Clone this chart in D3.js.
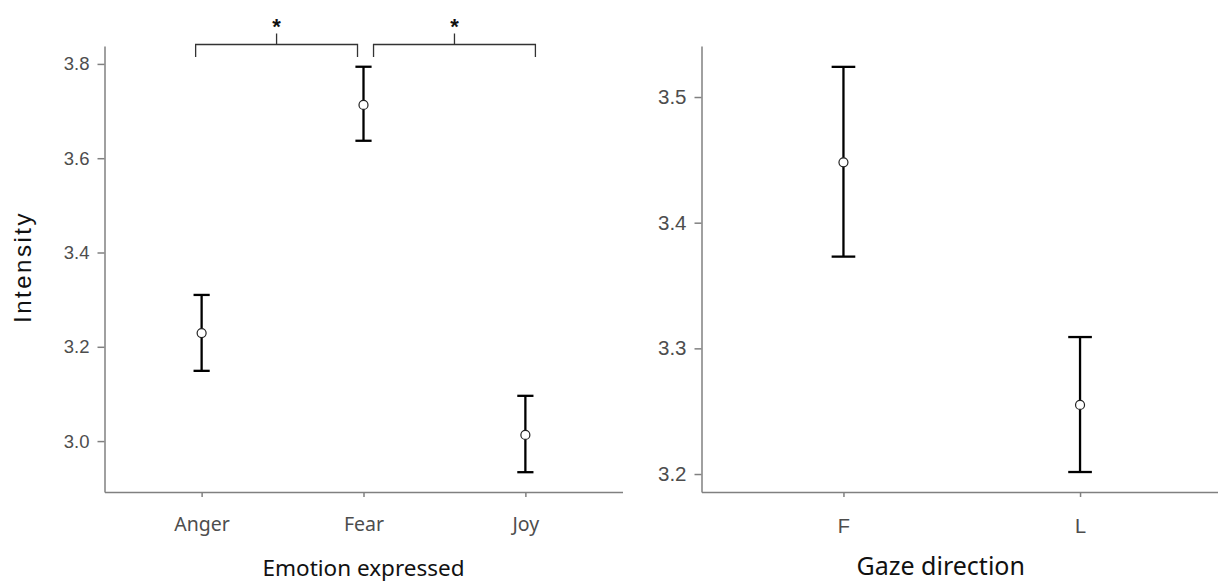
<!DOCTYPE html>
<html>
<head>
<meta charset="utf-8">
<script src="https://cdn.jsdelivr.net/npm/d3@7"></script>
<style>
  body { margin: 0; background: #fff; }
  .axis path, .axis line { stroke: #808080; stroke-width: 1.5px; }
  .axis text { fill: #4d4d4d; }
</style>
</head>
<body>
<svg id="chart" width="1218" height="583"></svg>
<script>
// left panel: emotion expressed
const emotions = ["Anger", "Fear", "Joy"]
const emoMean = [3.229, 3.713, 3.013]
const emoLow = [3.149, 3.637, 2.934]
const emoHigh = [3.310, 3.794, 3.096]
const emoTicks = [3.0, 3.2, 3.4, 3.6, 3.8]
// significance brackets (from, to) as category positions
const brackets = [[0.963, 1.963], [2.062, 3.062]]
const bracketLabels = ["*", "*"]

// right panel: gaze direction
const gaze = ["F", "L"]
const gazeMean = [3.448, 3.255]
const gazeLow = [3.373, 3.2016]
const gazeHigh = [3.524, 3.309]
const gazeTicks = [3.2, 3.3, 3.4, 3.5]

const svg = d3.select("#chart")
const plotTop = 46, plotBottom = 492

function panel(opts) {
  const g = svg.append("g")
  const x = d3.scaleLinear().domain([0.4, opts.cats.length + 0.6]).range([opts.left, opts.right])
  const y = d3.scaleLinear().domain(opts.yDomain).range([plotBottom, plotTop])

  // axes (tickSize first, then drop the outer ticks)
  const xAxis = d3.axisBottom(x).tickValues(opts.cats.map((c, i) => i + 1))
    .tickFormat((d, i) => opts.cats[i]).tickSize(5).tickSizeOuter(0).tickPadding(opts.xPad)
  g.append("g").attr("class", "axis").attr("transform", `translate(0,${plotBottom})`).call(xAxis)
    .call(a => a.selectAll("text").style("font-family", opts.xFont).style("font-size", opts.xSize)
      .attr("fill", opts.xColor))
  const yAxis = d3.axisLeft(y).tickValues(opts.ticks).tickFormat(d3.format(".1f"))
    .tickSize(7).tickSizeOuter(0).tickPadding(8)
  g.append("g").attr("class", "axis").attr("transform", `translate(${opts.left},0)`).call(yAxis)
    .call(a => a.selectAll("text").style("font-family", "Liberation Sans").style("font-size", opts.ySize))

  // error bars
  const step = x(2) - x(1)
  const capW = step * 0.1
  const rows = opts.cats.map((c, i) => ({ i: i + 1, m: opts.mean[i], lo: opts.low[i], hi: opts.high[i] }))
  const eb = g.append("g").attr("stroke", "#000").attr("stroke-width", 2.3)
  eb.selectAll(".stem").data(rows).join("line").attr("class", "stem")
    .attr("x1", d => x(d.i)).attr("x2", d => x(d.i)).attr("y1", d => y(d.lo)).attr("y2", d => y(d.hi))
  eb.selectAll(".capHi").data(rows).join("line").attr("class", "capHi")
    .attr("x1", d => x(d.i) - capW / 2).attr("x2", d => x(d.i) + capW / 2).attr("y1", d => y(d.hi)).attr("y2", d => y(d.hi))
  eb.selectAll(".capLo").data(rows).join("line").attr("class", "capLo")
    .attr("x1", d => x(d.i) - capW / 2).attr("x2", d => x(d.i) + capW / 2).attr("y1", d => y(d.lo)).attr("y2", d => y(d.lo))
  g.selectAll(".pt").data(rows).join("circle").attr("class", "pt")
    .attr("cx", d => x(d.i)).attr("cy", d => y(d.m)).attr("r", 4.5)
    .attr("fill", "#fff").attr("stroke", "#222").attr("stroke-width", 1.2)

  // axis title
  g.append("text").attr("x", x((opts.cats.length + 1) / 2) + opts.titleShift).attr("y", opts.titleY)
    .attr("text-anchor", "middle").style("font-family", "Noto Sans").style("font-size", opts.titleSize)
    .attr("fill", "#111").text(opts.title)

  return { g, x, y }
}

const left = panel({
  cats: emotions, mean: emoMean, low: emoLow, high: emoHigh, ticks: emoTicks,
  yDomain: [2.892, 3.838], left: 104.5, right: 622.5,
  title: "Emotion expressed", titleShift: 0, titleSize: "22.5px", titleY: 576,
  xFont: "Noto Sans", xSize: "19.5px", xColor: "#1a1a1a", xPad: 20, ySize: "18.5px"
})
const right = panel({
  cats: gaze, mean: gazeMean, low: gazeLow, high: gazeHigh, ticks: gazeTicks,
  yDomain: [3.1857, 3.5406], left: 701.5, right: 1222,
  title: "Gaze direction", titleShift: -21, titleSize: "25px", titleY: 575,
  xFont: "Liberation Sans", xSize: "20px", xColor: "#4d4d4d", xPad: 22, ySize: "20.5px"
})

// y title
svg.append("text").attr("transform", "translate(31,267) rotate(-90)")
  .attr("text-anchor", "middle").style("font-family", "Liberation Sans").style("font-size", "24px")
  .style("letter-spacing", "2.5px").attr("fill", "#111").text("Intensity")

// significance brackets
const by = 44.5, drop = 12.5, rise = 11
const bg = left.g.append("g").attr("stroke", "#333").attr("stroke-width", 1.3).attr("fill", "none")
brackets.forEach((b, i) => {
  const x0 = left.x(b[0]), x1 = left.x(b[1]), xm = (x0 + x1) / 2
  bg.append("path").attr("d", `M${x0},${by + drop}V${by}H${x1}V${by + drop}M${xm},${by}V${by - rise}`)
  left.g.append("text").attr("x", xm).attr("y", 34).attr("text-anchor", "middle")
    .style("font-family", "Liberation Sans").style("font-size", "22px").style("font-weight", "bold")
    .attr("fill", "#111").text(bracketLabels[i])
})
</script>
</body>
</html>
